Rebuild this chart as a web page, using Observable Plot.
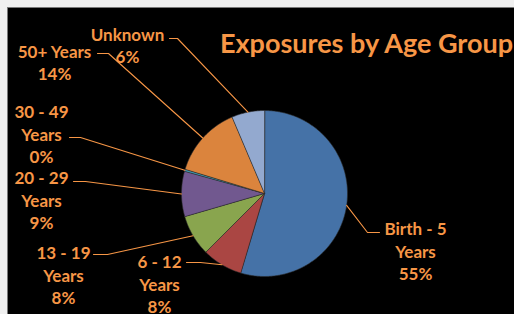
<!DOCTYPE html>
<html>
<head>
<meta charset="utf-8">
<script src="https://cdn.jsdelivr.net/npm/d3@7"></script>
<script src="https://cdn.jsdelivr.net/npm/@observablehq/plot@0.6"></script>
<style>
  html, body { margin: 0; padding: 0; width: 514px; height: 314px; overflow: hidden; background: #f0f0f0; }
  #box { position: absolute; left: 7px; top: 7px; width: 520px; height: 320px; background: #000; border-left: 1px solid #7a7a7a; border-top: 1px solid #7a7a7a; }
  #chart { position: absolute; left: 0; top: 0; }
</style>
</head>
<body>
<div id="box"></div>
<div id="chart"></div>
<script>
// ---- data ----
const categories = ["Birth - 5 Years", "6 - 12 Years", "13 - 19 Years", "20 - 29 Years", "30 - 49 Years", "50+ Years", "Unknown"];
const values = [54.6, 7.9, 8.0, 8.8, 0.4, 13.9, 6.4];
const labelLines = [["Birth - 5", "Years"], ["6 - 12", "Years"], ["13 - 19", "Years"], ["20 - 29", "Years"], ["30 - 49", "Years"], ["50+ Years"], ["Unknown"]];
const colors = ["#4572A7", "#AA4643", "#89A54E", "#71588F", "#4198AF", "#DB843D", "#93A9CF"];
const title = "Exposures by Age Group";

// ---- layout ----
const W = 514, H = 314;
const cx = 264, cy = 193, r = 83;
const textColor = "#F79646";
// label block center, leader start (x,y), elbow x
const labelLayout = [
  {x: 415, y: 250, sx: 379, sy: 232, ex: 367},
  {x: 159, y: 283, sx: 186, sy: 262, ex: 200},
  {x: 63,  y: 274, sx: 93,  sy: 254, ex: 107},
  {x: 41,  y: 199, sx: 73,  sy: 181, ex: 85},
  {x: 41,  y: 133, sx: 69,  sy: 137, ex: 80},
  {x: 54,  y: 61.5, sx: 97, sy: 53,  ex: 108},
  {x: 127, y: 44,  sx: 169, sy: 38,  ex: 177}
];

const total = d3.sum(values);
const arcs = d3.pie().sort(null).value(d => d)(values);
const pt = (a, rad) => [cx + rad * Math.sin(a), cy - rad * Math.cos(a)];

// slice polygons
const slicePts = [];
arcs.forEach((a, i) => {
  slicePts.push({cat: categories[i], x: cx, y: cy});
  const n = Math.max(2, Math.ceil((a.endAngle - a.startAngle) / 0.01));
  for (let k = 0; k <= n; k++) {
    const ang = a.startAngle + (a.endAngle - a.startAngle) * k / n;
    const [x, y] = pt(ang, r);
    slicePts.push({cat: categories[i], x, y});
  }
});

// leader lines
const leaderPts = [];
arcs.forEach((a, i) => {
  const L = labelLayout[i];
  const [mx, my] = pt((a.startAngle + a.endAngle) / 2, r);
  leaderPts.push({cat: categories[i], x: L.sx, y: L.sy});
  leaderPts.push({cat: categories[i], x: L.ex, y: L.sy});
  leaderPts.push({cat: categories[i], x: mx, y: my});
});

// labels
const labels = categories.map((c, i) => {
  const pct = Math.round(values[i] / total * 100) + "%";
  return {text: [...labelLines[i], pct].join("\n"), x: labelLayout[i].x, y: labelLayout[i].y};
});

const chart = Plot.plot({
  width: W, height: H, margin: 0,
  x: {domain: [0, W], range: [0, W], axis: null},
  y: {domain: [0, H], range: [0, H], axis: null},
  color: {domain: categories, range: colors},
  style: {background: "transparent", fontFamily: "Lato, sans-serif"},
  marks: [
    Plot.line(slicePts, {x: "x", y: "y", z: "cat", fill: "cat", stroke: "#2a2a2a", strokeWidth: 0.6, curve: "linear-closed"}),
    Plot.line(leaderPts, {x: "x", y: "y", z: "cat", stroke: textColor, strokeWidth: 1.1}),
    Plot.text(labels, {x: "x", y: "y", text: "text", fill: textColor, fontSize: 17, fontWeight: "bold", lineHeight: 1.3, textAnchor: "middle", lineAnchor: "middle"}),
    Plot.text([title], {x: () => 366, y: () => 44, text: d => d, fill: textColor, fontSize: 27, fontWeight: "bold", textAnchor: "middle"})
  ]
});
document.getElementById("chart").appendChild(chart);
</script>
</body>
</html>
